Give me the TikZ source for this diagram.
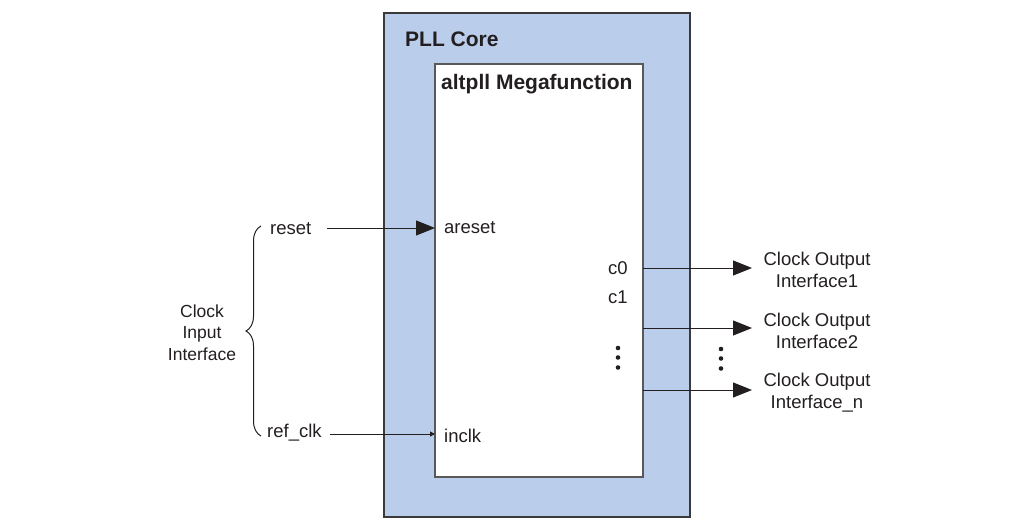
\documentclass[tikz,border=0pt]{standalone}
\usepackage{fontspec}
\setmainfont{Liberation Sans}
\usetikzlibrary{arrows.meta,decorations.pathreplacing}
\definecolor{coreblue}{HTML}{BACEEB}
\definecolor{edgegray}{HTML}{3A3A3A}
\definecolor{inkgray}{HTML}{231F20}
\tikzset{
  lbl/.style={inner sep=0pt, anchor=base west, text=inkgray, font=\fontsize{18.5}{22}\selectfont},
  outlbl/.style={inner sep=0pt, anchor=base, align=center, text=inkgray, font=\fontsize{18.5}{22}\selectfont},
  ttl/.style={inner sep=0pt, anchor=base west, text=inkgray, font=\fontsize{21}{24}\selectfont\bfseries},
  bigarrow/.style={-{Triangle[length=19pt,width=15pt]}, line width=1pt, draw=inkgray, fill=inkgray},
  smallarrow/.style={-{Triangle[length=5pt,width=5pt]}, line width=1pt, draw=inkgray, fill=inkgray},
  dotmark/.style={fill=inkgray, draw=none}
}
\begin{document}
\begin{tikzpicture}[x=1pt,y=-1pt]
\useasboundingbox (0,0) rectangle (1018,527);
% boxes
\draw[fill=coreblue, draw=edgegray, line width=1.4pt] (384,13) rectangle (690,517);
\draw[fill=white, draw=edgegray!85, line width=1.4pt] (435,64) rectangle (643,477);
\node[ttl] (core) at (405,47) {PLL Core};
\node[ttl] (mega) at (441,90) {altpll Megafunction};
% inputs
\node[lbl] (reset) at (270,234.5) {reset};
\node[lbl] (refclk) at (267,437) {ref\_clk};
\node[lbl] (areset) at (444,233) {areset};
\node[lbl] (inclk) at (444,442) {inclk};
\coordinate (inA) at (435,228);
\coordinate (inB) at (435,434);
\draw[bigarrow] (327,228) coordinate (rs) -- (inA);
\draw[smallarrow] (330,434) coordinate (rc) -- (inB);
% brace
\draw[line width=1pt, draw=inkgray, decorate, decoration={brace, amplitude=15pt}] (261,436) coordinate (bb) -- (261,226) coordinate (bt);
\node[outlbl, font=\fontsize{17.5}{21.5}\selectfont] (cii) at (202,360) {Clock\\Input\\Interface};
% outputs
\node[lbl] (c0) at (608,274) {c0};
\node[lbl] (c1) at (608,303) {c1};
\coordinate (o1) at (643,268);
\coordinate (o2) at (643,328);
\coordinate (o3) at (643,390);
\coordinate (t1) at (752,268);
\coordinate (t2) at (752,328);
\coordinate (t3) at (752,390);
\draw[bigarrow] (o1) -- (t1);
\draw[bigarrow] (o2) -- (t2);
\draw[bigarrow] (o3) -- (t3);
\node[outlbl] (out1) at (817,287) {Clock Output\\Interface1};
\node[outlbl] (out2) at (817,348) {Clock Output\\Interface2};
\node[outlbl] (out3) at (817,408) {Clock Output\\Interface\_n};
% dots
\foreach \yy in {348,357.5,367.5} {
  \fill[dotmark] (618,\yy) circle (2.3pt);
  \fill[dotmark] (721,\yy+1) circle (2.3pt);
}
\end{tikzpicture}
\end{document}
